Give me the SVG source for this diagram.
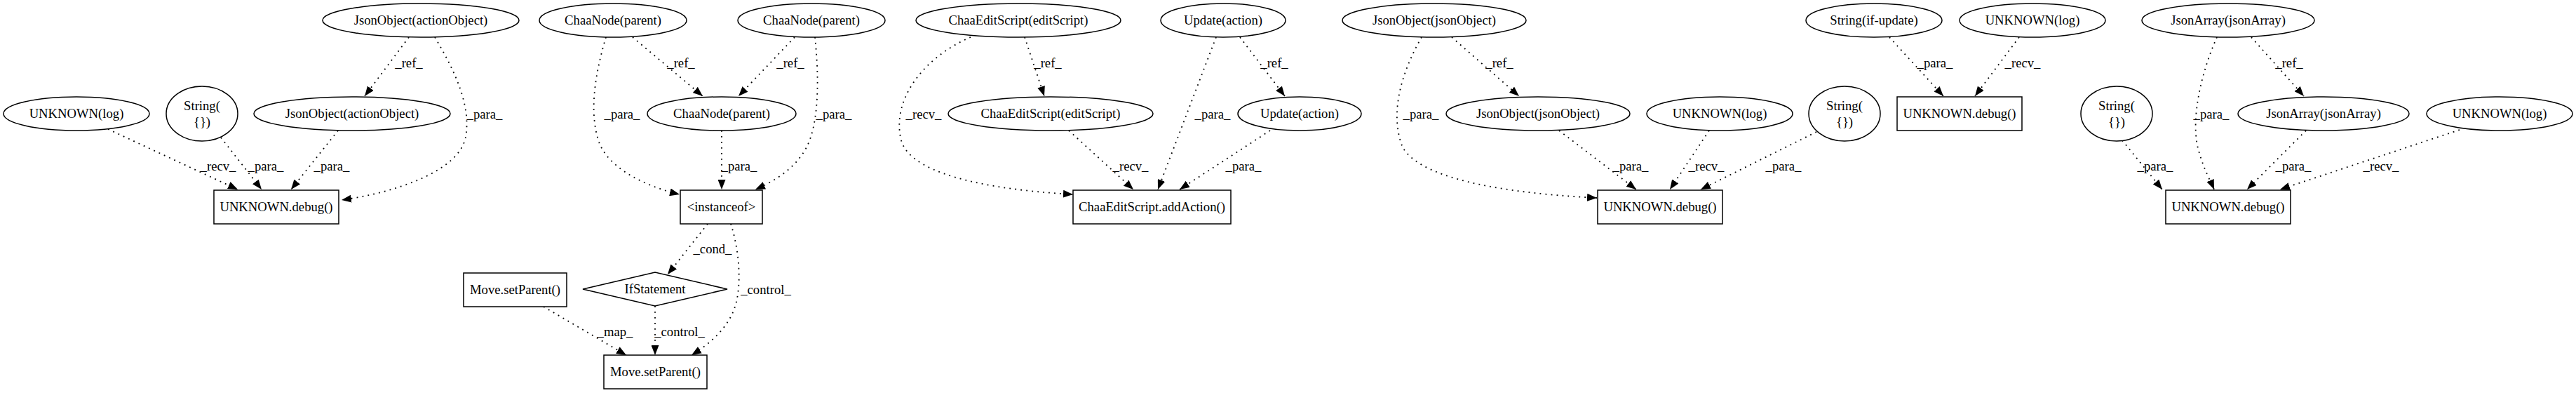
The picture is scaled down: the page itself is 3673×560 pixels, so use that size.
<svg xmlns="http://www.w3.org/2000/svg" width="3673" height="560" viewBox="0 0 3673 560">
<style>
.n ellipse, .n rect, .n polygon { fill: #fff; stroke: #000; stroke-width: 1.5; }
text { font-family: "Liberation Serif", "Times New Roman", serif; font-size: 18.67px; text-anchor: middle; fill: #000; }
.e path { fill: none; stroke: #000; stroke-width: 1.8; stroke-dasharray: 1.8 6.2; marker-end: url(#arr); }
</style>
<defs>
<marker id="arr" markerUnits="userSpaceOnUse" viewBox="0 0 14 11" refX="14" refY="5.5" markerWidth="14" markerHeight="11" orient="auto">
<path d="M0,0 L14,5.5 L0,11 z" fill="#000"/>
</marker>
</defs>
<rect width="3673" height="560" fill="#fff"/>
<g id="edges" class="e">
<path d="M154,184 L339,270"/><text x="311" y="243">_recv_</text>
<path d="M315,196 L373,270"/><text x="379" y="243">_para_</text>
<path d="M482,186 L415,270"/><text x="473" y="243">_para_</text>
<path d="M583,53 L520,137"/><text x="583" y="96">_ref_</text>
<path d="M620,53 C648,100 672,150 664,195 C655,245 560,275 487,285"/><text x="691" y="169">_para_</text>

<path d="M864,53 C850,100 838,160 855,205 C872,245 930,268 969,277"/><text x="887" y="169">_para_</text>
<path d="M902,53 L1002,137"/><text x="971" y="96">_ref_</text>
<path d="M1133,53 L1053,137"/><text x="1127" y="96">_ref_</text>
<path d="M1162,53 C1168,110 1168,175 1150,210 C1132,243 1100,260 1077,270"/><text x="1189" y="169">_para_</text>
<path d="M1029,186 L1029,270"/><text x="1054" y="243">_para_</text>
<path d="M1009,319 L952,391"/><text x="1016" y="361">_cond_</text>
<path d="M1042,319 C1052,350 1058,395 1050,430 C1042,465 1012,490 986,506"/><text x="1092" y="419">_control_</text>
<path d="M934,436 L934,506"/><text x="969" y="479">_control_</text>
<path d="M775,437 L893,506"/><text x="877" y="479">_map_</text>

<path d="M1384,53 C1320,80 1270,140 1285,200 C1300,255 1440,272 1530,277"/><text x="1317" y="169">_recv_</text>
<path d="M1461,53 L1489,137"/><text x="1494" y="96">_ref_</text>
<path d="M1524,186 L1616,270"/><text x="1612" y="243">_recv_</text>
<path d="M1734,53 L1651,270"/><text x="1729" y="169">_para_</text>
<path d="M1768,53 L1832,137"/><text x="1817" y="96">_ref_</text>
<path d="M1811,186 L1682,270"/><text x="1773" y="243">_para_</text>

<path d="M2027,53 C2000,100 1980,160 2000,210 C2030,262 2180,277 2277,282"/><text x="2026" y="169">_para_</text>
<path d="M2070,53 L2166,137"/><text x="2138" y="96">_ref_</text>
<path d="M2223,186 L2333,270"/><text x="2325" y="243">_para_</text>
<path d="M2437,186 L2381,270"/><text x="2433" y="243">_recv_</text>
<path d="M2590,188 L2425,270"/><text x="2543" y="243">_para_</text>

<path d="M2694,53 L2771,137"/><text x="2759" y="96">_para_</text>
<path d="M2879,53 L2816,137"/><text x="2884" y="96">_recv_</text>

<path d="M3161,53 C3140,100 3122,170 3135,215 C3143,243 3152,258 3157,270"/><text x="3153" y="169">_para_</text>
<path d="M3210,53 L3285,137"/><text x="3264" y="96">_ref_</text>
<path d="M3026,200 L3083,270"/><text x="3073" y="243">_para_</text>
<path d="M3288,186 L3204,270"/><text x="3270" y="243">_para_</text>
<path d="M3507,185 L3251,270"/><text x="3395" y="243">_recv_</text>
</g>

<g id="n1" class="n"><ellipse cx="600" cy="29" rx="140" ry="24"/><text x="600" y="35">JsonObject(actionObject)</text></g>
<g id="n2" class="n"><ellipse cx="109" cy="162" rx="104" ry="24"/><text x="109" y="168">UNKNOWN(log)</text></g>
<g id="n3" class="n"><ellipse cx="288" cy="162" rx="51" ry="39"/><text x="288" y="157">String(</text><text x="288" y="180">{})</text></g>
<g id="n4" class="n"><ellipse cx="502" cy="162" rx="140" ry="24"/><text x="502" y="168">JsonObject(actionObject)</text></g>
<g id="n5" class="n"><rect x="305" y="271" width="178" height="48"/><text x="394" y="301">UNKNOWN.debug()</text></g>

<g id="n6" class="n"><ellipse cx="874" cy="29" rx="105" ry="24"/><text x="874" y="35">ChaaNode(parent)</text></g>
<g id="n7" class="n"><ellipse cx="1157" cy="29" rx="105" ry="24"/><text x="1157" y="35">ChaaNode(parent)</text></g>
<g id="n8" class="n"><ellipse cx="1029" cy="162" rx="106" ry="24"/><text x="1029" y="168">ChaaNode(parent)</text></g>
<g id="n9" class="n"><rect x="970" y="271" width="117" height="48"/><text x="1028.5" y="301">&lt;instanceof&gt;</text></g>
<g id="n10" class="n"><rect x="661" y="389" width="147" height="48"/><text x="734.5" y="419">Move.setParent()</text></g>
<g id="n11" class="n"><polygon points="831,412 934,388 1037,412 934,436"/><text x="934" y="418">IfStatement</text></g>
<g id="n12" class="n"><rect x="861" y="506" width="147" height="48"/><text x="934.5" y="536">Move.setParent()</text></g>

<g id="n13" class="n"><ellipse cx="1452" cy="29" rx="146" ry="24"/><text x="1452" y="35">ChaaEditScript(editScript)</text></g>
<g id="n14" class="n"><ellipse cx="1744" cy="29" rx="89" ry="24"/><text x="1744" y="35">Update(action)</text></g>
<g id="n15" class="n"><ellipse cx="1498" cy="162" rx="146" ry="24"/><text x="1498" y="168">ChaaEditScript(editScript)</text></g>
<g id="n16" class="n"><ellipse cx="1853" cy="162" rx="88" ry="24"/><text x="1853" y="168">Update(action)</text></g>
<g id="n17" class="n"><rect x="1530" y="271" width="225" height="48"/><text x="1642.5" y="301">ChaaEditScript.addAction()</text></g>

<g id="n18" class="n"><ellipse cx="2045" cy="29" rx="131" ry="24"/><text x="2045" y="35">JsonObject(jsonObject)</text></g>
<g id="n19" class="n"><ellipse cx="2193" cy="162" rx="131" ry="24"/><text x="2193" y="168">JsonObject(jsonObject)</text></g>
<g id="n20" class="n"><ellipse cx="2452" cy="162" rx="104" ry="24"/><text x="2452" y="168">UNKNOWN(log)</text></g>
<g id="n21" class="n"><ellipse cx="2630" cy="162" rx="51" ry="39"/><text x="2630" y="157">String(</text><text x="2630" y="180">{})</text></g>
<g id="n22" class="n"><rect x="2278" y="271" width="178" height="48"/><text x="2367" y="301">UNKNOWN.debug()</text></g>

<g id="n23" class="n"><ellipse cx="2672" cy="29" rx="97" ry="24"/><text x="2672" y="35">String(if-update)</text></g>
<g id="n24" class="n"><ellipse cx="2898" cy="29" rx="104" ry="24"/><text x="2898" y="35">UNKNOWN(log)</text></g>
<g id="n25" class="n"><rect x="2705" y="138" width="178" height="48"/><text x="2794" y="168">UNKNOWN.debug()</text></g>

<g id="n26" class="n"><ellipse cx="3177" cy="29" rx="123" ry="24"/><text x="3177" y="35">JsonArray(jsonArray)</text></g>
<g id="n27" class="n"><ellipse cx="3018" cy="162" rx="51" ry="39"/><text x="3018" y="157">String(</text><text x="3018" y="180">{})</text></g>
<g id="n28" class="n"><ellipse cx="3313" cy="162" rx="122" ry="24"/><text x="3313" y="168">JsonArray(jsonArray)</text></g>
<g id="n29" class="n"><ellipse cx="3564" cy="162" rx="104" ry="24"/><text x="3564" y="168">UNKNOWN(log)</text></g>
<g id="n30" class="n"><rect x="3088" y="271" width="178" height="48"/><text x="3177" y="301">UNKNOWN.debug()</text></g>
</svg>
